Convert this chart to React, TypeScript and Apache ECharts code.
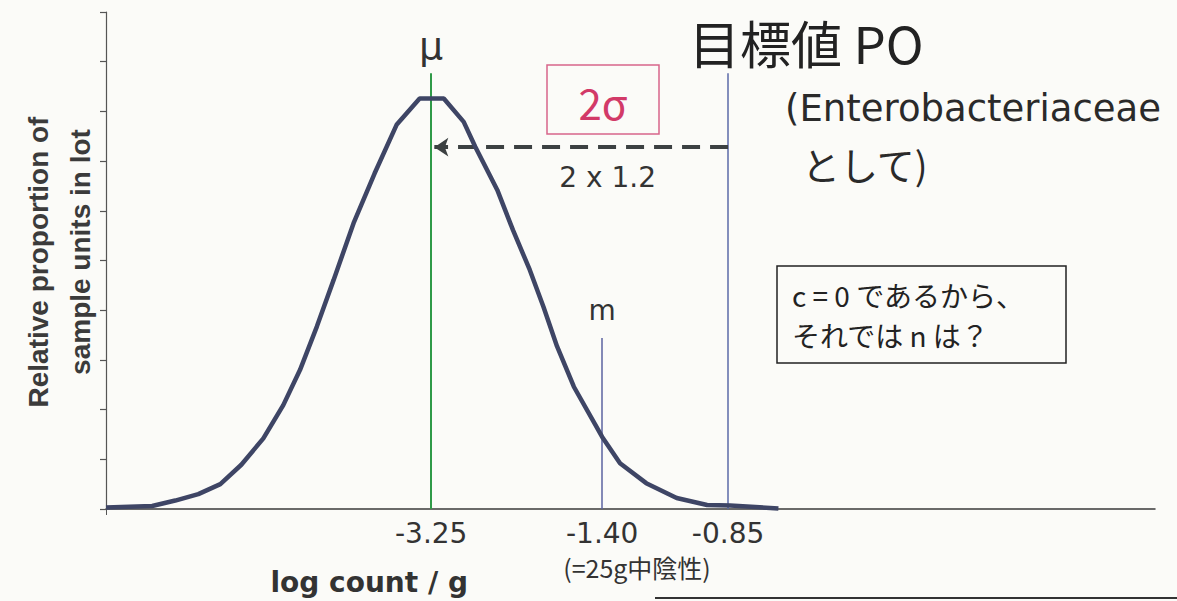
import React, { useEffect, useRef } from 'react';
import * as echarts from 'echarts';

// Schematic x positions (0..100 along the drawn axis), relative proportion (0..10)
const curveX = [0, 4.4, 6.6, 8.8, 10.9, 12.9, 15.0, 16.9, 18.5, 20.1, 21.7, 23.6, 25.6, 27.7, 29.9, 32.2, 34.1, 35.2, 37.3, 38.8, 40.4, 41.7, 43.0, 44.6, 47.3, 49.0, 51.5, 54.4, 57.3, 59.5, 64.1];
const curveY = [0.03, 0.06, 0.17, 0.30, 0.50, 0.89, 1.42, 2.09, 2.80, 3.67, 4.61, 5.75, 6.75, 7.73, 8.26, 8.26, 7.79, 7.29, 6.42, 5.61, 4.81, 4.07, 3.27, 2.46, 1.45, 0.92, 0.52, 0.22, 0.08, 0.07, 0.01];

const markerNames = ['μ', 'm', ''];
const markerX = [31.0, 47.3, 59.3];
const markerTop = [8.77, 3.44, 8.77];
const tickLabels = ['-3.25', '-1.40', '-0.85'];
const subTickLabel = '(=25g中陰性)';

const arrowY = 7.28;
const arrowLabel = '2 x 1.2';
const sigmaLabel = '2σ';

const titleText = '目標値 PO';
const titleSub = ['(Enterobacteriaceae', 'として)'];
const boxLines = ['c = 0 であるから、', 'それでは n は？'];
const yNameLines = ['Relative proportion of', 'sample units in lot'];
const xName = 'log count / g';

const LAT = '"Liberation Sans", Arial, sans-serif';
const DV = '"DejaVu Sans", "Liberation Sans", sans-serif';
const JP = '"Noto Sans CJK JP", "Noto Sans", sans-serif';

export default function App() {
  const ref = useRef<HTMLDivElement>(null);
  useEffect(() => {
    document.body.style.margin = '0';
    const chart = echarts.init(ref.current!, null, { renderer: 'svg' });
    const lineColors = ['#2f9a48', '#5b63a0', '#5b6aa8'];
    chart.setOption({
      animation: false,
      backgroundColor: '#fbfbf8',
      grid: { left: 106, right: 22, top: 12, bottom: 92 },
      xAxis: {
        type: 'value', min: 0, max: 100,
        axisLine: { show: true, lineStyle: { color: '#3a3a3a', width: 1.5 } },
        axisTick: { show: true, customValues: [0], length: 6, lineStyle: { color: '#555' } },
        splitLine: { show: false },
        axisLabel: {
          show: true, customValues: markerX, margin: 10,
          fontFamily: DV, fontSize: 28, color: '#333',
          formatter: (v: number) => {
            const i = markerX.findIndex((m) => Math.abs(m - v) < 1e-6);
            return i >= 0 ? tickLabels[i] : '';
          },
        },
      },
      yAxis: {
        type: 'value', min: 0, max: 10, interval: 1,
        axisLine: { show: true, lineStyle: { color: '#555', width: 1.2 } },
        axisTick: { show: true, length: 6, lineStyle: { color: '#555', width: 1.2 } },
        axisLabel: { show: false },
        splitLine: { show: false },
      },
      series: [
        {
          type: 'line',
          data: curveX.map((x, i) => [x, curveY[i]]),
          symbol: 'none',
          lineStyle: { color: '#3e4565', width: 4.5 },
          z: 3,
          markLine: {
            silent: true,
            symbol: 'none',
            z: 2,
            data: [
              ...markerX.map((x, i) => [
                {
                  coord: [x, 0],
                  lineStyle: { color: lineColors[i], width: i === 0 ? 2 : 1.5, type: 'solid' },
                  label: {
                    show: markerNames[i] !== '', position: 'end', formatter: markerNames[i],
                    distance: i === 0 ? 8 : 14, fontFamily: DV, fontSize: i === 0 ? 38 : 28, color: '#333',
                  },
                },
                { coord: [x, markerTop[i]] },
              ]),
              [
                {
                  coord: [markerX[2], arrowY], symbol: 'none',
                  lineStyle: { color: '#3c4142', width: 4, type: [18, 10] },
                  label: { show: false },
                },
                { coord: [markerX[0] + 0.3, arrowY], symbol: 'arrow', symbolSize: [14, 14] },
              ],
            ],
          },
        },
      ],
    });

    const p = (x: number, y: number) => chart.convertToPixel({ gridIndex: 0 }, [x, y]) as number[];
    const pArrow = p((markerX[0] + markerX[2]) / 2, arrowY);
    const pM = p(markerX[1], 0);
    const pMu = p(markerX[0], 0);

    chart.setOption({
      graphic: [
        // y axis name
        {
          type: 'text', x: 38, y: 262, rotation: Math.PI / 2,
          style: { text: yNameLines[0], font: `bold 28px ${LAT}`, fill: '#3b3b3b', align: 'center', verticalAlign: 'middle' },
        },
        {
          type: 'text', x: 80, y: 252, rotation: Math.PI / 2,
          style: { text: yNameLines[1], font: `bold 28px ${LAT}`, fill: '#3b3b3b', align: 'center', verticalAlign: 'middle' },
        },
        // x axis name
        {
          type: 'text', x: pMu[0] - 62, y: pMu[1] + 73,
          style: { text: xName, font: `bold 28px ${DV}`, fill: '#333', align: 'center', verticalAlign: 'middle' },
        },
        // sub label under -1.40
        {
          type: 'text', x: pM[0] - 39, y: pM[1] + 58,
          style: { text: subTickLabel, font: `25px ${JP}`, fill: '#333', align: 'left', verticalAlign: 'middle' },
        },
        // 2 x 1.2
        {
          type: 'text', x: pArrow[0] + 28, y: pArrow[1] + 30,
          style: { text: arrowLabel, font: `28px ${DV}`, fill: '#333', align: 'center', verticalAlign: 'middle' },
        },
        // 2σ box
        {
          type: 'rect', shape: { x: 547, y: 65, width: 112, height: 69 },
          style: { fill: 'none', stroke: '#d8668a', lineWidth: 1.5 },
        },
        {
          type: 'text', x: 603, y: 101,
          style: { text: sigmaLabel, font: `42px ${JP}`, fill: '#d23a68', align: 'center', verticalAlign: 'middle' },
        },
        // title
        {
          type: 'text', x: 689, y: 42,
          style: { text: titleText, font: `51px ${JP}`, fill: '#222', align: 'left', verticalAlign: 'middle' },
        },
        {
          type: 'text', x: 785, y: 108,
          style: { text: titleSub[0], font: `37px ${DV}`, fill: '#2a2a2a', align: 'left', verticalAlign: 'middle' },
        },
        {
          type: 'text', x: 802, y: 163,
          style: { text: titleSub[1], font: `38px ${JP}`, fill: '#2a2a2a', align: 'left', verticalAlign: 'middle' },
        },
        // question box
        {
          type: 'rect', shape: { x: 777, y: 266, width: 289, height: 97 },
          style: { fill: 'none', stroke: '#222', lineWidth: 1.5 },
        },
        {
          type: 'text', x: 792, y: 295,
          style: { text: boxLines[0], font: `28px ${JP}`, fill: '#222', align: 'left', verticalAlign: 'middle' },
        },
        {
          type: 'text', x: 792, y: 335,
          style: { text: boxLines[1], font: `28px ${JP}`, fill: '#222', align: 'left', verticalAlign: 'middle' },
        },
        // bottom rule line
        {
          type: 'line', shape: { x1: 655, y1: 598, x2: 1177, y2: 598 },
          style: { stroke: '#333', lineWidth: 2 },
        },
      ],
    });
    return () => chart.dispose();
  }, []);
  return <div ref={ref} style={{ width: 1177, height: 601 }} />;
}
